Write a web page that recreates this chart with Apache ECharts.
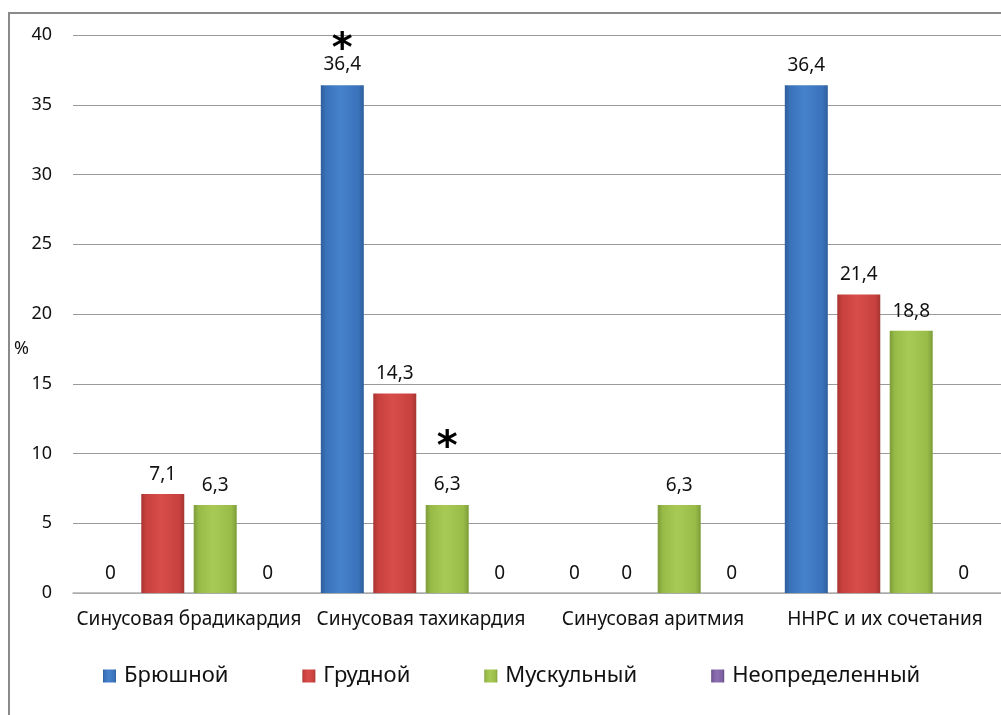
<!DOCTYPE html>
<html>
<head>
<meta charset="utf-8">
<script src="https://cdn.jsdelivr.net/npm/echarts@6/dist/echarts.min.js"></script>
<style>
  html, body { margin: 0; padding: 0; background: #fff; }
  #chart { width: 1001px; height: 715px; }
</style>
</head>
<body>
<div id="chart"></div>
<script>
// Arrhythmia types by group, percent
const categories = ['Синусовая брадикардия', 'Синусовая тахикардия', 'Синусовая аритмия', 'ННРС и их сочетания'];
const seriesNames = ['Брюшной', 'Грудной', 'Мускульный', 'Неопределенный'];
const abdominal = [0, 36.4, 0, 36.4];
const thoracic = [7.1, 14.3, 0, 21.4];
const muscular = [6.3, 6.3, 6.3, 18.8];
const undefinedType = [0, 0, 0, 0];
// significant differences marked with an asterisk: [series index, category index]
const starred = [[0, 1], [2, 1]];
const yTicks = [0, 5, 10, 15, 20, 25, 30, 35, 40];

const FONT = '"Noto Sans", "DejaVu Sans", sans-serif';

// Bevel-like shading per series: [edge, mid, light]
const palette = [
  ['#2f5e9c', '#3a72ba', '#4682cc'],
  ['#a83532', '#c8413e', '#d84d4a'],
  ['#7c9c38', '#98bb48', '#a8ca55'],
  ['#5e4780', '#7a5e9e', '#8e71b3']
];

function shade(c) {
  return new echarts.graphic.LinearGradient(0, 0, 1, 0, [
    { offset: 0, color: c[0] },
    { offset: 0.12, color: c[1] },
    { offset: 0.45, color: c[2] },
    { offset: 0.88, color: c[1] },
    { offset: 1, color: c[0] }
  ]);
}

const fmt = v => String(v).replace('.', ',');
const allData = [abdominal, thoracic, muscular, undefinedType];

const series = allData.map((vals, si) => ({
  name: seriesNames[si],
  type: 'bar',
  barWidth: 43,
  barGap: '22%',
  itemStyle: { color: shade(palette[si]), borderWidth: 0 },
  label: {
    show: true,
    position: 'top',
    distance: 10,
    color: '#111',
    fontFamily: FONT,
    fontSize: 19,
    formatter: p => fmt(p.value)
  },
  data: vals.map((v, ci) => {
    const st = starred.find(s => s[0] === si && s[1] === ci);
    if (!st) return v;
    const gap = si === 0 ? 6 : 50;
    return {
      value: v,
      label: {
        formatter: '{s|*}\n{v|' + fmt(v) + '}',
        rich: {
          s: { fontSize: 40, fontWeight: 'bold', lineHeight: gap, color: '#000', fontFamily: '"DejaVu Sans", sans-serif' },
          v: { fontSize: 19, lineHeight: 22, color: '#111', fontFamily: FONT }
        }
      }
    };
  })
}));

const chart = echarts.init(document.getElementById('chart'), null, { renderer: 'canvas' });
chart.setOption({
  animation: false,
  backgroundColor: '#fff',
  grid: { left: 73, right: 0, top: 35, bottom: 122, containLabel: false },
  xAxis: {
    type: 'category',
    data: categories,
    axisTick: { show: false },
    axisLine: { lineStyle: { color: '#b0b0b0', width: 1.5 } },
    axisLabel: { color: '#111', fontFamily: FONT, fontSize: 19, margin: 17, interval: 0 }
  },
  yAxis: {
    type: 'value',
    min: 0,
    max: 40,
    interval: 5,
    axisLine: { show: false },
    axisTick: { show: false },
    axisLabel: {
      color: '#111', fontFamily: FONT, fontSize: 18, margin: 21,
      formatter: v => (yTicks.includes(v) ? String(v) : '')
    },
    splitLine: { lineStyle: { color: '#9a9a9a', width: 1 } }
  },
  legend: {
    left: 103,
    top: 665,
    padding: 0,
    itemWidth: 13,
    itemHeight: 13,
    itemGap: 74,
    icon: 'rect',
    textStyle: { color: '#111', fontFamily: FONT, fontSize: 22, padding: [0, 0, 0, 3] },
    data: seriesNames
  },
  graphic: [
    {
      type: 'rect',
      shape: { x: 9, y: 13, width: 1020, height: 740 },
      style: { fill: 'none', stroke: '#8a8a8a', lineWidth: 2 },
      silent: true
    },
    {
      type: 'text',
      left: 14,
      top: 340,
      style: { text: '%', fill: '#111', font: '18px ' + FONT }
    }
  ],
  series
});
</script>
</body>
</html>
